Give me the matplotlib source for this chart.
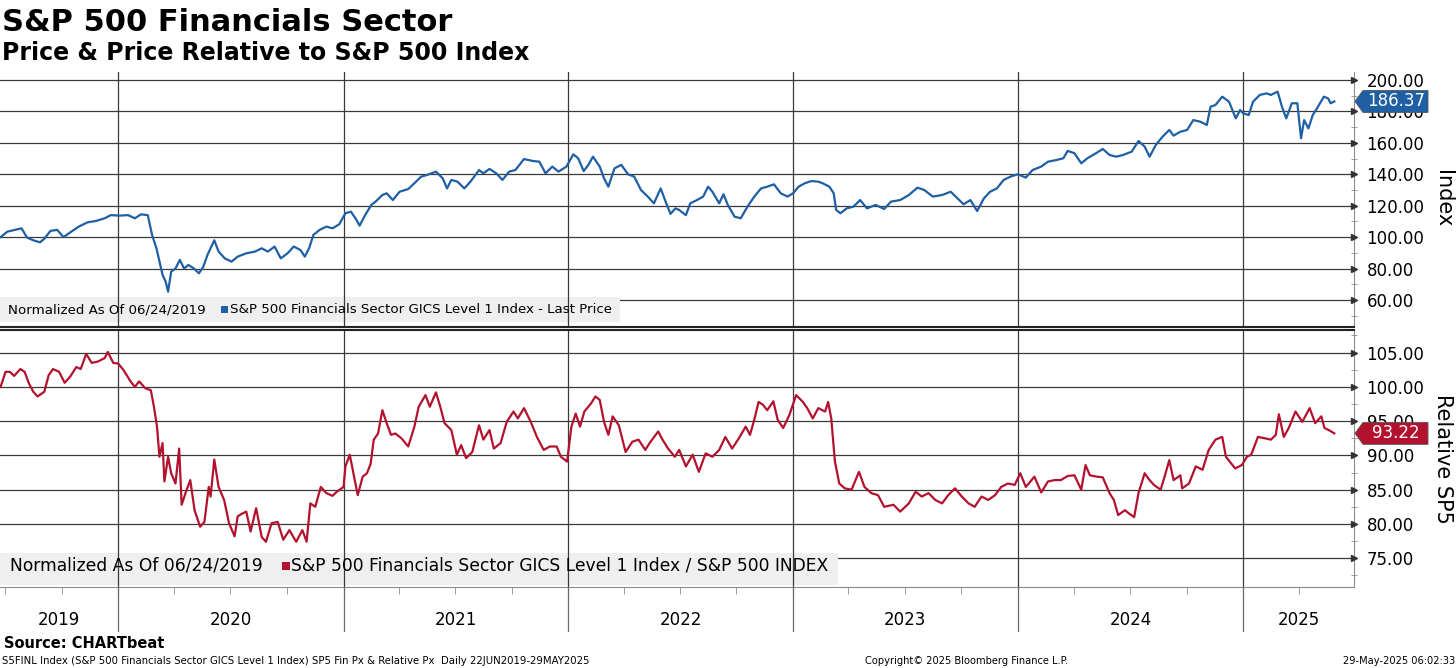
import matplotlib
matplotlib.use("Agg")
import matplotlib.pyplot as plt
import matplotlib.dates as mdates
from matplotlib.patches import Polygon, Rectangle
from matplotlib.ticker import MultipleLocator
import pandas as pd

# ---- values (normalized to 100 on 06/24/2019) ----
fin_dates = [
    "2019-06-24", "2019-07-05", "2019-07-16", "2019-07-28", "2019-08-06", "2019-08-16", "2019-08-27",
    "2019-09-03", "2019-09-13", "2019-09-24", "2019-10-04", "2019-10-15", "2019-10-29", "2019-11-12",
    "2019-11-26", "2019-12-10", "2019-12-20", "2020-01-03", "2020-01-17", "2020-01-28", "2020-02-07",
    "2020-02-18", "2020-02-25", "2020-03-03", "2020-03-08", "2020-03-13", "2020-03-18", "2020-03-22",
    "2020-03-27", "2020-04-03", "2020-04-10", "2020-04-17", "2020-04-24", "2020-05-03", "2020-05-11",
    "2020-05-18", "2020-05-25", "2020-06-05", "2020-06-12", "2020-06-22", "2020-07-03", "2020-07-13",
    "2020-07-27", "2020-08-10", "2020-08-21", "2020-08-31", "2020-09-11", "2020-09-21", "2020-10-02",
    "2020-10-12", "2020-10-23", "2020-10-30", "2020-11-06", "2020-11-13", "2020-11-23", "2020-12-04",
    "2020-12-14", "2020-12-25", "2021-01-04", "2021-01-13", "2021-01-22", "2021-01-27", "2021-02-05",
    "2021-02-15", "2021-02-22", "2021-03-05", "2021-03-12", "2021-03-22", "2021-04-02", "2021-04-16",
    "2021-04-26", "2021-05-07", "2021-05-17", "2021-05-31", "2021-06-11", "2021-06-18", "2021-06-25",
    "2021-07-05", "2021-07-16", "2021-07-26", "2021-08-09", "2021-08-16", "2021-08-26", "2021-09-06",
    "2021-09-16", "2021-09-27", "2021-10-07", "2021-10-21", "2021-11-04", "2021-11-15", "2021-11-25",
    "2021-12-06", "2021-12-16", "2021-12-29", "2022-01-09", "2022-01-17", "2022-01-26", "2022-02-03",
    "2022-02-10", "2022-02-21", "2022-02-28", "2022-03-07", "2022-03-17", "2022-03-28", "2022-04-08",
    "2022-04-18", "2022-04-29", "2022-05-10", "2022-05-20", "2022-05-31", "2022-06-10", "2022-06-16",
    "2022-06-24", "2022-06-30", "2022-07-11", "2022-07-18", "2022-07-29", "2022-08-08", "2022-08-16",
    "2022-08-23", "2022-09-03", "2022-09-10", "2022-09-17", "2022-09-28", "2022-10-08", "2022-10-19",
    "2022-10-30", "2022-11-10", "2022-11-20", "2022-12-01", "2022-12-12", "2022-12-23", "2023-01-01",
    "2023-01-10", "2023-01-20", "2023-01-31", "2023-02-11", "2023-02-18", "2023-03-01", "2023-03-08",
    "2023-03-12", "2023-03-19", "2023-03-29", "2023-04-09", "2023-04-20", "2023-05-01", "2023-05-15",
    "2023-05-29", "2023-06-09", "2023-06-24", "2023-07-08", "2023-07-22", "2023-08-02", "2023-08-16",
    "2023-08-31", "2023-09-14", "2023-09-25", "2023-10-05", "2023-10-16", "2023-10-27", "2023-11-07",
    "2023-11-17", "2023-11-28", "2023-12-09", "2023-12-20", "2024-01-01", "2024-01-14", "2024-01-25",
    "2024-02-08", "2024-02-19", "2024-03-04", "2024-03-15", "2024-03-22", "2024-04-02", "2024-04-13",
    "2024-04-23", "2024-05-04", "2024-05-18", "2024-05-29", "2024-06-09", "2024-06-20", "2024-07-04",
    "2024-07-15", "2024-07-25", "2024-08-02", "2024-08-12", "2024-08-23", "2024-09-03", "2024-09-10",
    "2024-09-21", "2024-10-02", "2024-10-12", "2024-10-23", "2024-11-03", "2024-11-09", "2024-11-17",
    "2024-11-28", "2024-12-09", "2024-12-20", "2024-12-27", "2025-01-01", "2025-01-10", "2025-01-17",
    "2025-01-28", "2025-02-08", "2025-02-15", "2025-02-26", "2025-03-05", "2025-03-12", "2025-03-21",
    "2025-03-30", "2025-04-05", "2025-04-10", "2025-04-17", "2025-04-24", "2025-05-01", "2025-05-12",
    "2025-05-19", "2025-05-23", "2025-05-29",
]
fin_px = [
    100.0, 103.5, 104.5, 105.6, 99.7, 98.0, 96.7,
    99.0, 104.0, 104.6, 100.0, 103.0, 106.7, 109.4,
    110.3, 112.0, 114.0, 113.7, 114.0, 112.0, 114.5,
    114.0, 101.4, 93.0, 84.4, 76.0, 71.7, 65.3,
    78.0, 80.0, 85.5, 80.0, 82.3, 80.0, 77.0,
    81.0, 88.7, 98.0, 90.8, 86.5, 84.4, 87.6,
    89.7, 90.8, 92.9, 90.8, 94.0, 86.5, 89.7,
    94.0, 91.8, 87.6, 92.9, 101.4, 104.6, 106.7,
    105.6, 108.2, 115.2, 116.2, 110.9, 107.3, 114.0,
    120.5, 122.6, 126.8, 127.9, 123.6, 128.9, 130.6,
    134.3, 138.5, 139.6, 141.7, 137.4, 131.0, 136.4,
    135.3, 131.0, 135.3, 142.7, 140.6, 143.4, 140.6,
    136.4, 141.7, 142.7, 149.7, 148.5, 148.0, 140.6,
    144.9, 141.7, 144.9, 152.7, 150.2, 142.0, 146.3,
    151.2, 144.9, 137.4, 132.1, 143.8, 146.0, 140.0,
    138.5, 130.0, 125.8, 121.5, 131.0, 120.5, 114.8,
    118.3, 117.3, 114.0, 121.5, 123.6, 125.8, 132.1,
    128.9, 121.5, 127.3, 120.5, 113.0, 112.0, 119.4,
    125.8, 131.0, 132.1, 133.6, 127.9, 125.8, 127.9,
    132.1, 134.3, 135.7, 135.3, 134.3, 132.1, 127.9,
    117.3, 115.2, 118.3, 119.4, 123.6, 118.3, 120.5,
    117.9, 122.6, 123.6, 126.8, 131.5, 130.0, 125.8,
    126.8, 128.9, 124.7, 120.9, 123.6, 116.6, 124.7,
    128.9, 131.0, 136.4, 138.5, 140.0, 137.9, 142.7,
    144.9, 148.0, 149.1, 150.2, 154.9, 153.4, 147.0,
    150.2, 152.7, 156.1, 152.3, 151.2, 152.3, 154.4,
    161.2, 157.6, 151.2, 158.6, 163.9, 168.2, 164.6,
    167.1, 168.2, 174.5, 173.5, 171.4, 183.0, 184.1,
    189.4, 186.2, 175.6, 180.9, 178.8, 177.7, 186.2,
    190.5, 191.5, 190.5, 192.6, 183.0, 175.6, 185.2,
    185.2, 162.9, 174.5, 169.2, 177.7, 182.0, 189.4,
    188.3, 185.2, 186.37,
]

rel_dates = [
    "2019-06-24", "2019-07-02", "2019-07-09", "2019-07-16", "2019-07-26", "2019-08-02", "2019-08-09",
    "2019-08-16", "2019-08-23", "2019-09-03", "2019-09-10", "2019-09-17", "2019-09-27", "2019-10-06",
    "2019-10-15", "2019-10-25", "2019-11-01", "2019-11-10", "2019-11-19", "2019-11-29", "2019-12-10",
    "2019-12-15", "2019-12-24", "2020-01-01", "2020-01-10", "2020-01-21", "2020-01-28", "2020-02-04",
    "2020-02-14", "2020-02-23", "2020-02-28", "2020-03-04", "2020-03-08", "2020-03-13", "2020-03-16",
    "2020-03-22", "2020-03-27", "2020-04-03", "2020-04-09", "2020-04-13", "2020-04-20", "2020-04-27",
    "2020-05-04", "2020-05-13", "2020-05-20", "2020-05-27", "2020-05-30", "2020-06-05", "2020-06-12",
    "2020-06-21", "2020-06-29", "2020-07-08", "2020-07-13", "2020-07-20", "2020-07-27", "2020-08-03",
    "2020-08-12", "2020-08-21", "2020-08-28", "2020-09-06", "2020-09-16", "2020-09-25", "2020-10-05",
    "2020-10-16", "2020-10-26", "2020-11-02", "2020-11-08", "2020-11-16", "2020-11-25", "2020-12-04",
    "2020-12-14", "2020-12-21", "2021-01-01", "2021-01-04", "2021-01-11", "2021-01-18", "2021-01-24",
    "2021-02-01", "2021-02-08", "2021-02-14", "2021-02-19", "2021-02-26", "2021-03-05", "2021-03-12",
    "2021-03-19", "2021-03-26", "2021-04-05", "2021-04-16", "2021-04-26", "2021-05-03", "2021-05-14",
    "2021-05-21", "2021-05-31", "2021-06-07", "2021-06-14", "2021-06-25", "2021-07-04", "2021-07-11",
    "2021-07-19", "2021-07-29", "2021-08-09", "2021-08-16", "2021-08-26", "2021-09-02", "2021-09-13",
    "2021-09-23", "2021-10-04", "2021-10-11", "2021-10-21", "2021-11-01", "2021-11-11", "2021-11-22",
    "2021-12-02", "2021-12-13", "2021-12-20", "2021-12-30", "2022-01-06", "2022-01-13", "2022-01-20",
    "2022-01-27", "2022-02-07", "2022-02-14", "2022-02-21", "2022-02-28", "2022-03-07", "2022-03-14",
    "2022-03-24", "2022-04-04", "2022-04-15", "2022-04-25", "2022-05-06", "2022-05-13", "2022-05-27",
    "2022-06-03", "2022-06-12", "2022-06-23", "2022-06-30", "2022-07-11", "2022-07-22", "2022-08-01",
    "2022-08-12", "2022-08-23", "2022-09-03", "2022-09-13", "2022-09-24", "2022-10-05", "2022-10-16",
    "2022-10-23", "2022-10-30", "2022-11-06", "2022-11-13", "2022-11-20", "2022-11-30", "2022-12-07",
    "2022-12-16", "2022-12-26", "2023-01-06", "2023-01-17", "2023-01-24", "2023-02-02", "2023-02-11",
    "2023-02-22", "2023-02-27", "2023-03-04", "2023-03-10", "2023-03-17", "2023-03-26", "2023-04-06",
    "2023-04-18", "2023-04-27", "2023-05-08", "2023-05-19", "2023-05-29", "2023-06-13", "2023-06-24",
    "2023-07-08", "2023-07-19", "2023-07-29", "2023-08-09", "2023-08-20", "2023-08-31", "2023-09-10",
    "2023-09-21", "2023-10-02", "2023-10-13", "2023-10-23", "2023-11-03", "2023-11-14", "2023-11-25",
    "2023-12-05", "2023-12-16", "2023-12-27", "2024-01-05", "2024-01-14", "2024-01-28", "2024-02-08",
    "2024-02-19", "2024-03-01", "2024-03-11", "2024-03-22", "2024-04-02", "2024-04-13", "2024-04-20",
    "2024-04-27", "2024-05-08", "2024-05-18", "2024-05-29", "2024-06-05", "2024-06-12", "2024-06-23",
    "2024-06-30", "2024-07-08", "2024-07-15", "2024-07-25", "2024-08-02", "2024-08-09", "2024-08-20",
    "2024-08-27", "2024-09-03", "2024-09-10", "2024-09-21", "2024-09-24", "2024-10-05", "2024-10-16",
    "2024-10-27", "2024-11-06", "2024-11-17", "2024-11-28", "2024-12-04", "2024-12-19", "2024-12-30",
    "2025-01-07", "2025-01-14", "2025-01-25", "2025-02-05", "2025-02-15", "2025-02-23", "2025-02-28",
    "2025-03-08", "2025-03-16", "2025-03-27", "2025-04-07", "2025-04-19", "2025-04-28", "2025-05-08",
    "2025-05-13", "2025-05-20", "2025-05-29",
]
rel_px = [
    100.0, 102.2, 102.2, 101.6, 102.6, 102.2, 100.5,
    99.3, 98.6, 99.3, 101.7, 102.6, 102.2, 100.6,
    101.5, 102.9, 102.6, 104.8, 103.5, 103.7, 104.2,
    105.1, 103.5, 103.4, 102.4, 100.8, 100.0, 100.8,
    99.8, 99.5, 97.1, 94.2, 89.8, 91.8, 86.2,
    89.8, 87.4, 85.9, 91.0, 82.8, 84.7, 86.4,
    82.0, 79.6, 80.3, 85.4, 84.0, 89.4, 85.4,
    83.5, 80.1, 78.2, 81.1, 81.5, 81.8, 78.9,
    82.3, 78.1, 77.4, 80.1, 80.3, 77.7, 79.1,
    77.4, 79.1, 77.4, 83.0, 82.5, 85.4, 84.5,
    84.1, 84.7, 85.4, 88.4, 90.1, 86.9, 84.2,
    86.9, 87.4, 88.8, 92.3, 93.2, 96.6, 94.7,
    93.0, 93.2, 92.5, 91.3, 94.2, 97.1, 98.8,
    97.1, 99.2, 97.1, 94.7, 93.7, 90.1, 91.5,
    89.6, 90.5, 94.4, 92.3, 93.7, 91.0, 91.8,
    94.9, 96.4, 95.4, 96.9, 94.9, 92.7, 90.8,
    91.3, 91.3, 89.8, 89.1, 94.2, 96.1, 94.2,
    96.4, 97.6, 98.6, 98.1, 94.9, 93.0, 95.7,
    94.4, 90.5, 92.0, 92.3, 90.8, 91.8, 93.5,
    92.3, 91.0, 89.8, 90.8, 88.4, 90.1, 87.6,
    90.3, 89.8, 90.8, 92.7, 91.0, 92.5, 94.2,
    93.0, 95.2, 97.8, 97.4, 96.6, 97.9, 95.2,
    94.0, 95.9, 98.8, 97.8, 96.9, 95.4, 96.9,
    96.4, 97.8, 95.4, 89.1, 85.9, 85.2, 85.0,
    87.6, 85.4, 84.5, 84.2, 82.5, 82.8, 81.8,
    83.0, 84.7, 84.0, 84.5, 83.5, 83.0, 84.2,
    85.2, 84.0, 83.0, 82.5, 84.0, 83.5, 84.2,
    85.4, 85.9, 85.7, 87.4, 85.4, 86.9, 84.6,
    86.2, 86.4, 86.4, 87.0, 87.1, 85.0, 88.6,
    87.1, 86.9, 86.8, 84.5, 83.5, 81.3, 82.0,
    81.5, 81.0, 84.5, 87.4, 86.4, 85.7, 85.0,
    87.1, 89.3, 86.4, 87.1, 85.2, 85.9, 88.4,
    87.9, 90.8, 92.3, 92.7, 89.8, 88.1, 88.6,
    89.8, 90.1, 92.7, 92.5, 92.3, 93.0, 96.0,
    92.7, 94.0, 96.4, 94.9, 96.9, 94.7, 95.7,
    94.0, 93.7, 93.22,
]

years = [2019, 2020, 2021, 2022, 2023, 2024, 2025]
px_ticks = [60, 80, 100, 120, 140, 160, 180, 200]
rel_ticks = [75, 80, 85, 90, 95, 100, 105]

fin = pd.Series(fin_px, index=pd.to_datetime(fin_dates))
rel = pd.Series(rel_px, index=pd.to_datetime(rel_dates))

BLUE = "#1f5fa3"
RED = "#b3122e"
GRID = "#3a3a3a"
SPINE = "#8c8c8c"

W, H = 1456, 668


def frac(x0, y0, x1, y1):
    # pixel box (from top-left) -> figure fraction rect
    return [x0 / W, 1 - y1 / H, (x1 - x0) / W, (y1 - y0) / H]


fig = plt.figure(figsize=(W / 100, H / 100), dpi=100)
ax1 = fig.add_axes(frac(0, 72, 1354, 327))
ax2 = fig.add_axes(frac(0, 330, 1354, 587), sharex=ax1)
band = fig.add_axes(frac(0, 587, 1354, 632), sharex=ax1)

x_start, x_end = pd.Timestamp("2019-06-23"), pd.Timestamp("2025-06-30")
ax1.set_xlim(x_start, x_end)

panels = [
    (ax1, fin, BLUE, px_ticks, 10, (42.8, 205.1)),
    (ax2, rel, RED, rel_ticks, 2.5, (70.8, 108.3)),
]
for ax, s, color, ticks, minor, lim in panels:
    ax.plot(s.index, s.values, color=color, lw=1.6, zorder=4)
    ax.set_ylim(*lim)
    ax.yaxis.tick_right()
    ax.set_yticks(ticks)
    ax.set_yticklabels([f"{t:.2f}" for t in ticks])
    ax.yaxis.set_minor_locator(MultipleLocator(minor))
    ax.tick_params(axis="y", which="major", length=0, pad=9, labelsize=12)
    ax.tick_params(axis="y", which="minor", length=4, direction="inout", color=SPINE)
    for t in ticks:
        ax.axhline(t, color=GRID, lw=0.9, zorder=0.4)
    for y in years[1:]:
        ax.axvline(pd.Timestamp(f"{y}-01-01"), color=GRID, lw=0.9, zorder=1)
    # arrow heads on the major ticks
    ax.plot([1.0] * len(ticks), ticks, ls="none", marker=">", ms=5, color="#333333",
            transform=ax.get_yaxis_transform(), clip_on=False, zorder=5)
    ax.spines["left"].set_visible(False)
    ax.spines["right"].set_color(SPINE)
    ax.set_facecolor("white")

ax1.spines["top"].set_visible(False)
ax1.spines["bottom"].set_color("#222222")
ax1.spines["bottom"].set_linewidth(1.5)
ax2.spines["top"].set_color("#222222")
ax2.spines["top"].set_linewidth(1.5)
ax2.spines["bottom"].set_color(SPINE)

ax2.xaxis.set_major_locator(mdates.YearLocator())
ax2.xaxis.set_minor_locator(mdates.MonthLocator(bymonth=[1, 4, 7, 10]))
ax1.tick_params(axis="x", which="both", bottom=False, labelbottom=False)
ax2.tick_params(axis="x", which="both", direction="out", length=5, color=SPINE, labelbottom=False)

# year band under the lower panel
band.axis("off")
for y in years[1:]:
    band.axvline(pd.Timestamp(f"{y}-01-01"), color="#6a6a6a", lw=0.9)
for y in years:
    a = max(pd.Timestamp(f"{y}-01-01"), x_start)
    b = min(pd.Timestamp(f"{y + 1}-01-01"), x_end)
    band.text(a + (b - a) / 2, 0.27, str(y), transform=band.get_xaxis_transform(),
              ha="center", va="center", fontsize=12)

# legend strips
ax1.add_patch(Rectangle((0, 0.0196), 620 / 1354, 0.098, transform=ax1.transAxes,
                        fc="#efefef", ec="none", zorder=0.5))
ax1.text(8 / 1354, 0.067, "Normalized As Of 06/24/2019", transform=ax1.transAxes,
         fontsize=9.6, va="center", zorder=3)
ax1.add_patch(Rectangle((221 / 1354, 0.067 - 3.5 / 255), 7 / 1354, 7 / 255,
                        transform=ax1.transAxes, fc=BLUE, ec="none", zorder=3))
ax1.text(230 / 1354, 0.067, "S&P 500 Financials Sector GICS Level 1 Index - Last Price",
         transform=ax1.transAxes, fontsize=9.6, va="center", zorder=3)

ax2.add_patch(Rectangle((0, 0.0078), 838 / 1354, 0.124, transform=ax2.transAxes,
                        fc="#efefef", ec="none", zorder=0.5))
ax2.text(10 / 1354, 0.082, "Normalized As Of 06/24/2019", transform=ax2.transAxes,
         fontsize=12.3, va="center", zorder=3)
ax2.add_patch(Rectangle((282 / 1354, 0.082 - 4 / 257), 8 / 1354, 8 / 257,
                        transform=ax2.transAxes, fc=RED, ec="none", zorder=3))
ax2.text(291 / 1354, 0.082, "S&P 500 Financials Sector GICS Level 1 Index / S&P 500 INDEX",
         transform=ax2.transAxes, fontsize=12.3, va="center", zorder=3)


def last_tag(ax, value, color):
    # value tag on the right axis, covering the tick label like the terminal does
    y = ax.transData.transform((0, value))[1]
    pts = [(1355, y), (1363, y + 11), (1428, y + 11), (1428, y - 11), (1363, y - 11)]
    fig.add_artist(Polygon([(px / W, py / H) for px, py in pts], closed=True,
                           transform=fig.transFigure, fc=color, ec="#555555", lw=0.6, zorder=5))
    fig.text(1396 / W, y / H, f"{value:.2f}", color="white", ha="center", va="center",
             fontsize=12, zorder=6)


last_tag(ax1, fin.iloc[-1], BLUE)
last_tag(ax2, rel.iloc[-1], RED)

# axis titles on the right
fig.text(1443 / W, 1 - 199 / H, "Index", rotation=270, ha="center", va="center", fontsize=15)
fig.text(1443 / W, 1 - 459 / H, "Relative SP5", rotation=270, ha="center", va="center", fontsize=15)

# titles
fig.text(2 / W, 1 - 31 / H, "S&P 500 Financials Sector", fontsize=22, fontweight="bold", va="baseline")
fig.text(2 / W, 1 - 60 / H, "Price & Price Relative to S&P 500 Index", fontsize=17,
         fontweight="bold", va="baseline")

# footer
fig.text(4 / W, 1 - 648 / H, "Source: CHARTbeat", fontsize=10.5, fontweight="bold", va="baseline")
fig.text(2 / W, 1 - 664 / H,
         "S5FINL Index (S&P 500 Financials Sector GICS Level 1 Index) SP5 Fin Px & Relative Px  Daily 22JUN2019-29MAY2025",
         fontsize=7.3, va="baseline")
fig.text(967 / W, 1 - 664 / H, "Copyright\u00a9 2025 Bloomberg Finance L.P.", fontsize=7.1,
         ha="center", va="baseline")
fig.text(1455 / W, 1 - 664 / H, "29-May-2025 06:02:33", fontsize=7.1, ha="right", va="baseline")

fig.savefig("out.png", dpi=100)
